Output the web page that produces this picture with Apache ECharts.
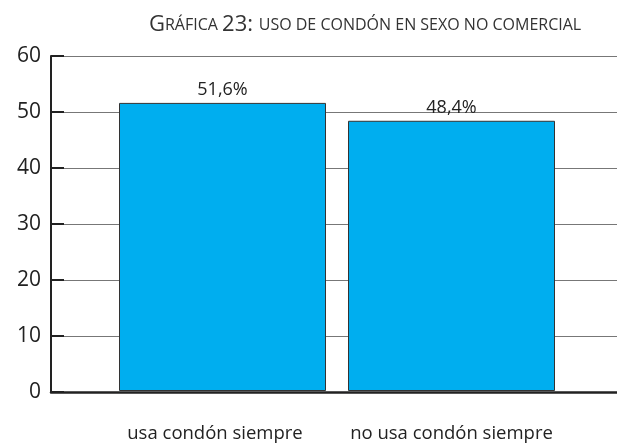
<!DOCTYPE html>
<html>
<head>
<meta charset="utf-8">
<script src="https://cdn.jsdelivr.net/npm/echarts@6/dist/echarts.min.js"></script>
<style>
  html, body { margin: 0; padding: 0; background: #fff; }
  #chart { width: 617px; height: 443px; }
</style>
</head>
<body>
<div id="chart"></div>
<script>
  // data
  var categories = ['usa condón siempre', 'no usa condón siempre'];
  var values = [51.6, 48.4];
  var valueLabels = ['51,6%', '48,4%'];
  var yTicks = [0, 10, 20, 30, 40, 50, 60];

  var font = 'Open Sans';
  var myChart = echarts.init(document.getElementById('chart'));

  // first label sits a little left of its bar in the original
  var catData = categories.map(function (c, i) {
    return i === 0 ? { value: c, textStyle: { padding: [0, 15, 0, 0] } } : c;
  });

  var option = {
    backgroundColor: '#fff',
    animation: false,
    title: {
      left: 144,
      top: 9,
      text: '{big|G}{small|RÁFICA }{big|23: }{small|USO DE CONDÓN EN SEXO NO COMERCIAL}',
      textStyle: {
        rich: {
          big: { fontFamily: font, fontSize: 22, fontWeight: 'normal', color: '#333' },
          small: { fontFamily: font, fontSize: 16, fontWeight: 'normal', color: '#333' }
        }
      }
    },
    grid: [
      // axis frame + gridlines
      { left: 51, right: 0, top: 56, bottom: 51 },
      // bars
      { left: 108, right: 51, top: 56, bottom: 51 }
    ],
    xAxis: [
      {
        gridIndex: 0, type: 'value', min: 0, max: 1,
        axisLine: { show: true, onZero: false, lineStyle: { color: '#222', width: 2.5 } },
        axisTick: { show: false }, axisLabel: { show: false }, splitLine: { show: false }
      },
      {
        gridIndex: 1, type: 'category', data: catData,
        axisLine: { show: false }, axisTick: { show: false },
        axisLabel: { interval: 0, hideOverlap: false, fontFamily: font, fontSize: 18.5, color: '#222', margin: 33 }
      }
    ],
    yAxis: [
      {
        gridIndex: 0, type: 'value', min: yTicks[0], max: yTicks[yTicks.length - 1], interval: 10,
        axisLine: { show: true, lineStyle: { color: '#222', width: 2 } },
        axisTick: { show: true, inside: true, length: 13, lineStyle: { color: '#222', width: 2 } },
        axisLabel: { fontFamily: font, fontSize: 21, color: '#222', margin: 10 },
        splitLine: { show: true, lineStyle: { color: '#777', width: 1 } }
      },
      {
        gridIndex: 1, type: 'value', min: 0, max: 60, show: false
      }
    ],
    series: [{
      type: 'bar',
      xAxisIndex: 1,
      yAxisIndex: 1,
      data: values,
      barWidth: 207,
      itemStyle: { color: '#00AEEF', borderColor: '#333', borderWidth: 1 },
      label: {
        show: true,
        position: 'top',
        distance: 4,
        fontFamily: font,
        fontSize: 18,
        color: '#222',
        formatter: function (p) { return valueLabels[p.dataIndex]; }
      }
    }]
  };

  myChart.setOption(option);
</script>
</body>
</html>
